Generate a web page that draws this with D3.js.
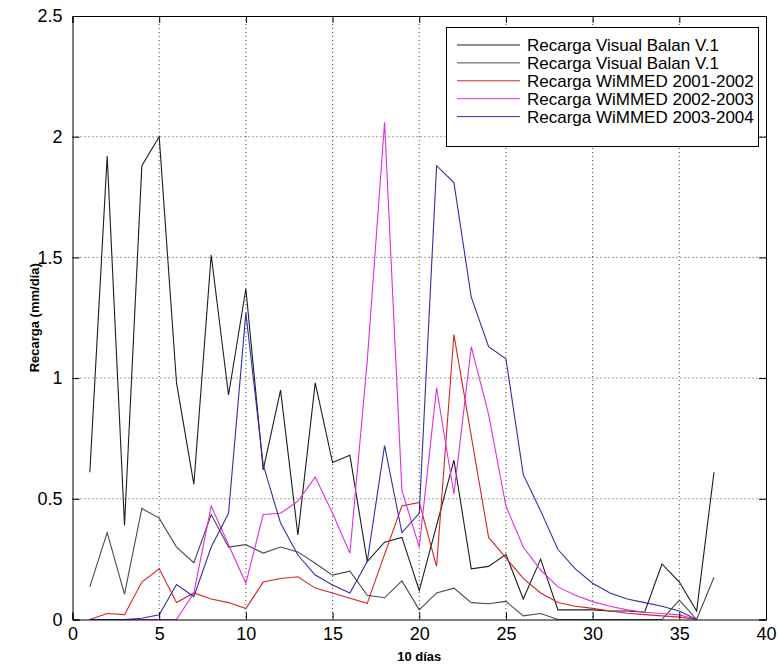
<!DOCTYPE html>
<html><head><meta charset="utf-8">
<script src="https://cdn.jsdelivr.net/npm/d3@7"></script>
<style>
body{margin:0;background:#fff;}
svg{display:block;}
text{font-family:"Liberation Sans",Arial,sans-serif;}
</style></head>
<body>
<svg id="chart" width="778" height="670"></svg>
<script>
const days = d3.range(1, 38);
const balan1 = [0.61,1.92,0.39,1.88,2.00,0.98,0.56,1.51,0.93,1.37,0.62,0.95,0.35,0.98,0.65,0.68,0.24,0.32,0.34,0.12,0.39,0.66,0.21,0.22,0.27,0.085,0.25,0.04,0.04,0.04,0.035,0.035,0.03,0.23,0.155,0.035,0.61];
const balan2 = [0.135,0.36,0.105,0.46,0.42,0.30,0.235,0.435,0.30,0.31,0.275,0.30,0.28,0.233,0.184,0.20,0.10,0.09,0.16,0.04,0.11,0.13,0.07,0.065,0.075,0.015,0.025,0,0,0,0,0,0,0,0.08,0,0.175];
const wimmed0102 = [0,0.025,0.02,0.155,0.21,0.07,0.11,0.085,0.07,0.045,0.155,0.17,0.177,0.13,0.11,0.088,0.067,0.27,0.47,0.485,0.22,1.18,0.76,0.34,0.255,0.17,0.11,0.07,0.055,0.046,0.035,0.026,0.02,0.015,0.01,0];
const wimmed0203 = [0,0,0,0,0,0,0.11,0.47,0.31,0.15,0.435,0.44,0.49,0.59,0.44,0.275,1.07,2.06,0.535,0.30,0.96,0.52,1.13,0.85,0.47,0.30,0.205,0.135,0.10,0.074,0.055,0.04,0.03,0.025,0.019,0];
const wimmed0304 = [0,0,0,0.005,0.02,0.145,0.095,0.30,0.44,1.27,0.64,0.40,0.267,0.184,0.143,0.11,0.24,0.72,0.36,0.44,1.88,1.81,1.335,1.13,1.08,0.60,0.45,0.29,0.21,0.15,0.11,0.085,0.07,0.055,0.035,0];
const xTicks = [0,5,10,15,20,25,30,35,40];
const yTicks = [0,0.5,1,1.5,2,2.5];
const yTickLabels = ["0","0.5","1","1.5","2","2.5"];
const seriesNames = ["Recarga Visual Balan V.1","Recarga Visual Balan V.1","Recarga WiMMED 2001-2002","Recarga WiMMED 2002-2003","Recarga WiMMED 2003-2004"];
const seriesColors = ["#1e1e1e","#4a4a4a","#d82424","#dd30dd","#3030a8"];
const seriesData = [balan1,balan2,wimmed0102,wimmed0203,wimmed0304];

const svg = d3.select("#chart");
const L = 72.5, R = 766, T = 16, B = 619.5;
const x = d3.scaleLinear().domain([0,40]).range([L,R]);
const y = d3.scaleLinear().domain([0,2.5]).range([B,T]);

svg.append("rect").attr("width",778).attr("height",670).attr("fill","#fff");

// grid
const g = svg.append("g");
g.selectAll(".gx").data(xTicks.slice(1,-1)).enter().append("line")
  .attr("x1",d=>x(d)).attr("x2",d=>x(d)).attr("y1",T).attr("y2",B)
  .attr("stroke","#444").attr("stroke-width",1).attr("stroke-dasharray","1,3");
g.selectAll(".gy").data(yTicks.slice(1,-1)).enter().append("line")
  .attr("y1",d=>y(d)).attr("y2",d=>y(d)).attr("x1",L).attr("x2",R)
  .attr("stroke","#444").attr("stroke-width",1).attr("stroke-dasharray","1,3");

// lines
const line = d3.line().x((d,i)=>x(days[i])).y(d=>y(d));
seriesData.forEach((s,k)=>{
  svg.append("path").datum(s).attr("d",line).attr("fill","none")
    .attr("stroke",seriesColors[k]).attr("stroke-width",1.1);
});

// axes
const tl = 7;
const axB = svg.append("g").attr("transform",`translate(0,${B})`)
  .call(d3.axisBottom(x).tickValues(xTicks).tickSize(-tl).tickPadding(8).tickFormat(d3.format("d")));
const axT = svg.append("g").attr("transform",`translate(0,${T})`)
  .call(d3.axisTop(x).tickValues(xTicks).tickSize(-tl).tickFormat(""));
const axL = svg.append("g").attr("transform",`translate(${L},0)`)
  .call(d3.axisLeft(y).tickValues(yTicks).tickSize(-tl).tickPadding(10).tickFormat((d,i)=>yTickLabels[i]));
const axR = svg.append("g").attr("transform",`translate(${R},0)`)
  .call(d3.axisRight(y).tickValues(yTicks).tickSize(-tl).tickFormat(""));
[axB,axT,axL,axR].forEach(a=>{
  a.select(".domain").attr("stroke","#000").attr("stroke-width",1);
  a.selectAll(".tick line").attr("stroke","#000");
  a.selectAll("text").attr("fill","#000").style("font-size","18px").style("font-family","'Liberation Sans',Arial,sans-serif");
});

// axis titles
svg.append("text").attr("x",(L+R)/2).attr("y",661).attr("text-anchor","middle")
  .style("font-size","13px").style("font-weight","bold").text("10 días");
svg.append("text").attr("transform",`translate(39,${(T+B)/2}) rotate(-90)`).attr("text-anchor","middle")
  .style("font-size","13px").style("font-weight","bold").text("Recarga (mm/día)");

// legend
const lg = svg.append("g");
lg.append("rect").attr("x",446.5).attr("y",27.5).attr("width",312).attr("height",119)
  .attr("fill","#fff").attr("stroke","#000").attr("stroke-width",1);
seriesNames.forEach((n,k)=>{
  const yy = 45 + k*17.9;
  lg.append("line").attr("x1",457).attr("x2",520).attr("y1",yy).attr("y2",yy)
    .attr("stroke",seriesColors[k]).attr("stroke-width",1);
  lg.append("text").attr("x",527).attr("y",yy).attr("dy","0.36em")
    .style("font-size","17px").attr("fill","#000").text(n);
});
</script>
</body></html>
